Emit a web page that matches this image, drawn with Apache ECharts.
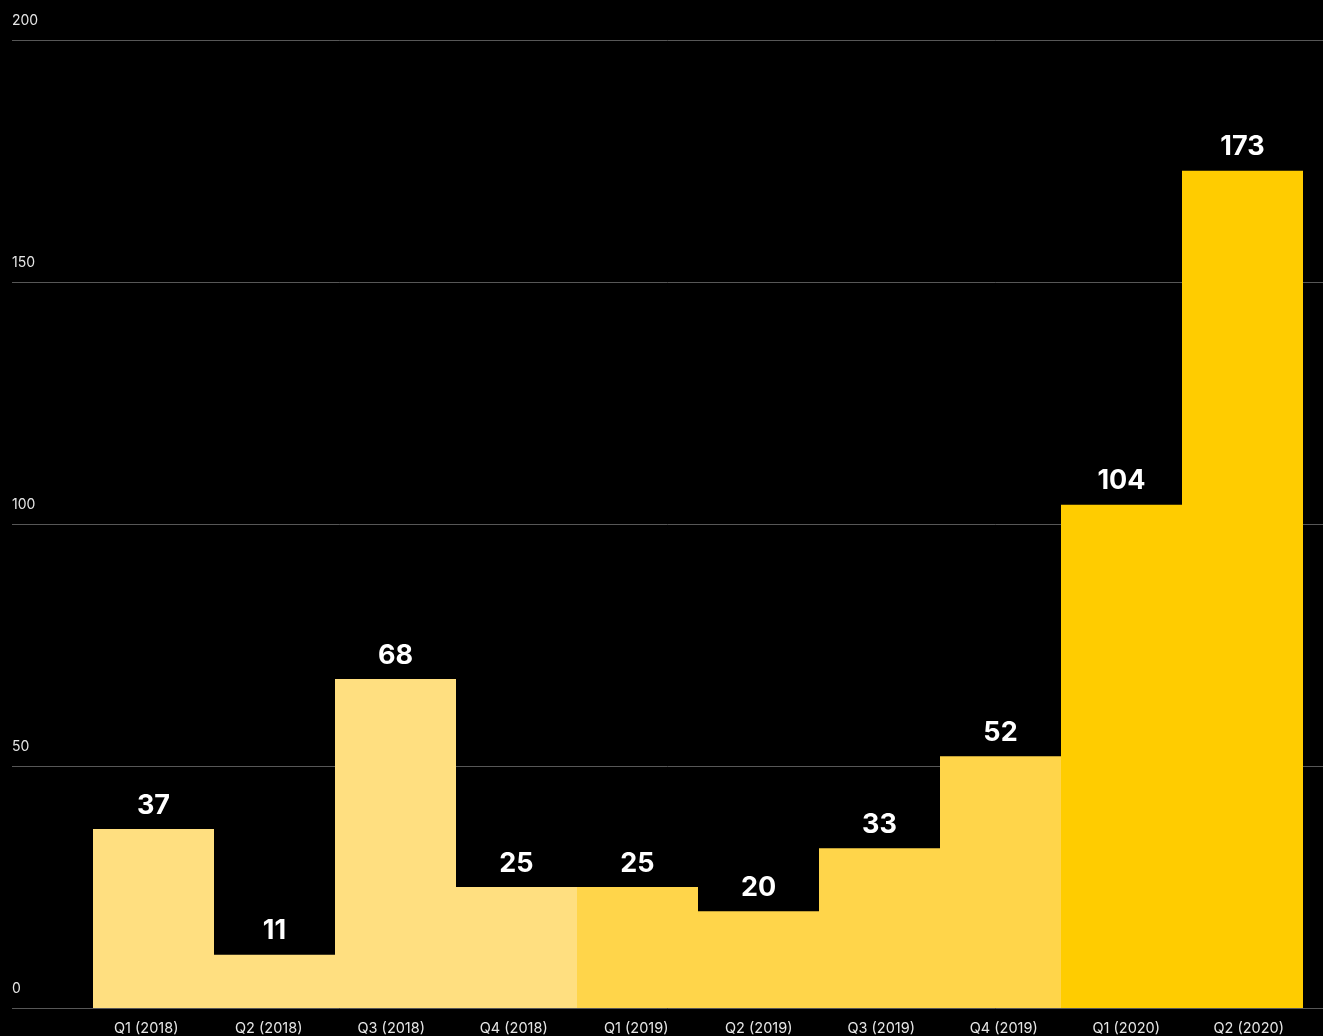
<!DOCTYPE html>
<html>
<head>
<meta charset="utf-8">
<script src="https://cdn.jsdelivr.net/npm/echarts@6/dist/echarts.min.js"></script>
<style>
  html, body { margin: 0; padding: 0; background: #000; }
  #chart { width: 1323px; height: 1036px; }
</style>
</head>
<body>
<div id="chart"></div>
<script>
// Quarterly values, grouped by year for colouring
const quarters = ['Q1 (2018)', 'Q2 (2018)', 'Q3 (2018)', 'Q4 (2018)',
                  'Q1 (2019)', 'Q2 (2019)', 'Q3 (2019)', 'Q4 (2019)',
                  'Q1 (2020)', 'Q2 (2020)'];
const values = [37, 11, 68, 25, 25, 20, 33, 52, 104, 173];
const years = [2018, 2018, 2018, 2018, 2019, 2019, 2019, 2019, 2020, 2020];
const yearColors = { 2018: '#FFDF80', 2019: '#FFD54A', 2020: '#FFCC00' };
const yTicks = [0, 50, 100, 150, 200];

const yMin = yTicks[0];
const yMax = yTicks[yTicks.length - 1];
const yStep = yTicks[1] - yTicks[0];

const font = 'Inter, "Noto Sans", sans-serif';
const chart = echarts.init(document.getElementById('chart'));

chart.setOption({
  backgroundColor: '#000',
  animation: false,
  grid: [
    // full-width grid carrying the value axis and its lines
    { left: 12, right: 0, top: 40, bottom: 28 },
    // inner grid carrying the bars (whole-pixel band width)
    { left: 93, right: 20, top: 40, bottom: 28 },
    // grid carrying the quarter labels
    { left: 85, right: 13, top: 40, bottom: 28 }
  ],
  xAxis: [
    { type: 'category', gridIndex: 0, data: [''], show: false },
    { type: 'category', gridIndex: 1, data: quarters, show: false },
    {
      type: 'category',
      gridIndex: 2,
      data: quarters,
      axisLine: { show: false },
      axisTick: { show: false },
      axisLabel: {
        color: '#e6e6e6',
        fontFamily: font,
        fontSize: 14.5,
        margin: 14
      }
    }
  ],
  yAxis: [
    {
      type: 'value',
      gridIndex: 0,
      min: yMin,
      max: yMax,
      interval: yStep,
      axisLine: { show: false },
      axisTick: { show: false },
      splitLine: { lineStyle: { color: '#575757', width: 1 } },
      axisLabel: {
        inside: true,
        margin: 0,
        align: 'left',
        verticalAlign: 'bottom',
        padding: [0, 0, 12, 0],
        color: '#e6e6e6',
        fontFamily: font,
        fontSize: 14
      }
    },
    { type: 'value', gridIndex: 1, min: yMin, max: yMax, interval: yStep, show: false },
    { type: 'value', gridIndex: 2, min: yMin, max: yMax, interval: yStep, show: false }
  ],
  series: [{
    type: 'bar',
    xAxisIndex: 1,
    yAxisIndex: 1,
    barWidth: '100%',
    barCategoryGap: 0,
    data: values.map((v, i) => ({
      value: v,
      itemStyle: { color: yearColors[years[i]], borderWidth: 0 }
    })),
    label: {
      show: true,
      position: 'top',
      distance: 10,
      color: '#ffffff',
      fontWeight: 'bold',
      fontSize: 27,
      fontFamily: font
    }
  }]
});
</script>
</body>
</html>
